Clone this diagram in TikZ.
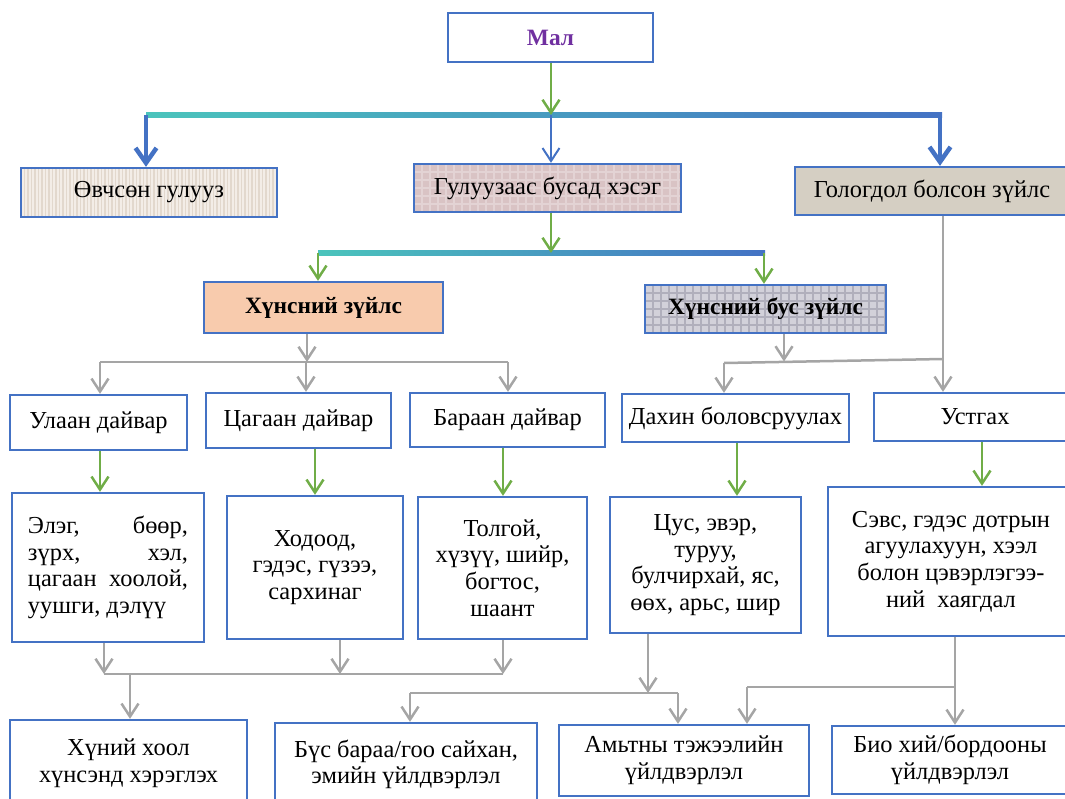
\documentclass[tikz,border=0pt]{standalone}
\usepackage{fontspec}
\setmainfont{Liberation Serif}
\usetikzlibrary{arrows.meta}
\definecolor{boxblue}{HTML}{4472C4}
\definecolor{agreen}{HTML}{70AD47}
\definecolor{agrey}{HTML}{A5A5A5}
\definecolor{tealc}{HTML}{4BC4BC}
\definecolor{purp}{HTML}{7030A0}
\definecolor{peach}{HTML}{F8CBAD}
\definecolor{ovbase}{HTML}{F3EDE7}
\definecolor{ovstripe}{HTML}{E2D8CD}
\definecolor{gulbase}{HTML}{D9C3C4}
\definecolor{gulgrid}{HTML}{E3D3D4}
\definecolor{golbase}{HTML}{D5CFC3}
\definecolor{hbbase}{HTML}{D2D1DA}
\definecolor{hbgrid}{HTML}{B0AFBC}
\begin{document}
\begin{tikzpicture}[x=1bp,y=-1bp,
  txt/.style={font=\fontsize{24.5}{26.7}\selectfont},
  box/.style={draw=boxblue, line width=2.3bp, inner sep=2bp, align=center, txt},
  boldtxt/.style={font=\fontsize{23.5}{26.7}\selectfont\bfseries},
  arrtip/.style={-{Straight Barb[length=13bp,width=17bp]}},
  garr/.style={draw=agreen, line width=2.5bp, arrtip},
  grarr/.style={draw=agrey, line width=2.5bp, arrtip},
  gline/.style={draw=agrey, line width=2.5bp},
  barr/.style={draw=boxblue, line width=4.5bp, -{Straight Barb[length=15bp,width=21bp]}},
  barrthin/.style={draw=boxblue, line width=2bp, arrtip},
  stripes/.style={path picture={\foreach \i in {0,3.5,...,280}{\draw[ovstripe, line width=1.2bp] ([xshift=\i bp]path picture bounding box.south west) -- ([xshift=\i bp]path picture bounding box.north west);}}},
  checks/.style={path picture={\foreach \i in {0,8,...,280}{\draw[#1, line width=1.3bp] ([xshift=\i bp]path picture bounding box.south west) -- ([xshift=\i bp]path picture bounding box.north west);}
    \foreach \j in {0,8,...,60}{\draw[#1, line width=1.3bp] ([yshift=\j bp]path picture bounding box.south west) -- ([yshift=\j bp]path picture bounding box.south east);}}},
]
\useasboundingbox (0,0) rectangle (1065,799);
\clip (0,0) rectangle (1065,799);

% ---- nodes ----
\node[box, minimum width=205bp, minimum height=49bp, text=purp, boldtxt] (mal) at (550.5,37.5) {Мал};

\node[box, fill=ovbase, stripes, minimum width=256bp, minimum height=49bp] (ovch) at (149,192.5) {Өвчсөн гулууз};
\node[box, fill=gulbase, checks=gulgrid, minimum width=267bp, minimum height=48bp, text depth=4bp] (gul) at (547.5,188) {Гулуузаас бусад хэсэг};
\node[box, fill=golbase, minimum width=274bp, minimum height=48bp] (golog) at (932,191) {Гологдол болсон зүйлс};

\node[box, fill=peach, minimum width=239bp, minimum height=51bp, boldtxt] (huns) at (323.5,307.5) {Хүнсний зүйлс};
\node[box, fill=hbbase, checks=hbgrid, minimum width=241bp, minimum height=48bp, boldtxt] (hbus) at (765.5,309) {Хүнсний бус зүйлс};

\node[box, minimum width=177bp, minimum height=55bp] (ulaan) at (98.5,422.5) {Улаан дайвар};
\node[box, minimum width=185bp, minimum height=55bp] (tsagaan) at (298.5,420.5) {Цагаан дайвар};
\node[box, minimum width=195bp, minimum height=54bp] (baraan) at (507.5,420) {Бараан дайвар};
\node[box, minimum width=227bp, minimum height=48bp] (dakhin) at (735.5,418) {Дахин боловсруулах};
\node[box, minimum width=202bp, minimum height=48bp] (ustgakh) at (975,417) {Устгах};

\node[box, minimum width=192bp, minimum height=149bp] (eleg) at (108,567.5)
  {\parbox{160bp}{\fontsize{24.5}{26.7}\selectfont Элэг,\hfill бөөр,\\зүрх,\hfill хэл,\\цагаан\hfill хоолой,\\уушги, дэлүү}};
\node[box, minimum width=176bp, minimum height=143bp] (khodood) at (315,567.5) {Ходоод,\\гэдэс, гүзээ,\\сархинаг};
\node[box, minimum width=169bp, minimum height=142bp] (tolgoi) at (502.5,568) {Толгой,\\хүзүү, шийр,\\богтос,\\шаант};
\node[box, minimum width=191bp, minimum height=136bp] (tsus) at (705.5,565) {Цус, эвэр,\\туруу,\\булчирхай, яс,\\өөх, арьс, шир};
\node[box, minimum width=246bp, minimum height=149bp] (sevs) at (951,561.5) {Сэвс, гэдэс дотрын\\агуулахуун, хээл\\болон цэвэрлэгээ-\\ний\ \ хаягдал};

\node[box, minimum width=237bp, minimum height=86bp] (khool) at (128.5,763) {Хүний хоол\\хүнсэнд хэрэглэх};
\node[box, minimum width=262bp, minimum height=83bp] (bus) at (406,764.5) {Бүс бараа/гоо сайхан,\\эмийн үйлдвэрлэл};
\node[box, minimum width=250bp, minimum height=71bp] (amitny) at (684,760.5) {Амьтны тэжээлийн\\үйлдвэрлэл};
\node[box, minimum width=236bp, minimum height=68bp] (bio) at (950,760) {Био хий/бордооны\\үйлдвэрлэл};

% ---- junction coordinates ----
\coordinate (j1) at (551,115);
\coordinate (j1L) at (146,115);
\coordinate (j1R) at (940,115);
\coordinate (j2) at (551,253);
\coordinate (j2L) at (318,253);
\coordinate (j2R) at (764,253);
\coordinate (j3) at (307,362);
\coordinate (j3L) at (100,362);
\coordinate (j3M) at (306,362);
\coordinate (j3R) at (508,362);
\coordinate (j4) at (784,361.5);
\coordinate (j4L) at (724,363);
\coordinate (j4R) at (943,359);
\coordinate (j5L) at (104,674);
\coordinate (j5M) at (340,674);
\coordinate (j5R) at (503,674);
\coordinate (j5o) at (130,674);
\coordinate (j6) at (648,693);
\coordinate (j6L) at (410,693);
\coordinate (j6R) at (678,693);
\coordinate (j7) at (955,687);
\coordinate (j7L) at (747,687);

% ---- level 1 ----
\shade[left color=tealc, right color=boxblue] (146,112.5) rectangle (942,117.5);
\draw[garr] (mal.south -| j1) -- (j1);
\draw[barr] (j1L) -- (j1L |- ovch.north);
\draw[barrthin] (j1) -- (j1 |- gul.north);
\draw[barr] (j1R) -- (j1R |- golog.north);

% ---- level 2 ----
\shade[left color=tealc, right color=boxblue] (318,250.5) rectangle (765,255.5);
\draw[garr] (gul.south -| j2) -- (j2);
\draw[garr] (j2L) -- (j2L |- huns.north);
\draw[garr] (j2R) -- (j2R |- hbus.north);

% ---- level 3 ----
\draw[grarr] (huns.south -| j3) -- (j3);
\draw[gline] (j3L) -- (j3R);
\draw[grarr] (j3L) -- (j3L |- ulaan.north);
\draw[grarr] (j3M) -- (j3M |- tsagaan.north);
\draw[grarr] (j3R) -- (j3R |- baraan.north);

\draw[grarr] (hbus.south -| j4) -- (j4);
\draw[gline] (j4L) -- (j4R);
\draw[grarr] (j4L) -- (j4L |- dakhin.north);
\draw[grarr] (golog.south -| j4R) -- (j4R |- ustgakh.north);

% ---- level 4 ----
\draw[garr] (ulaan.south -| 100,0) -- (eleg.north -| 100,0);
\draw[garr] (tsagaan.south -| 315,0) -- (khodood.north -| 315,0);
\draw[garr] (baraan.south -| 503,0) -- (tolgoi.north -| 503,0);
\draw[garr] (dakhin.south -| 737,0) -- (tsus.north -| 737,0);
\draw[garr] (ustgakh.south -| 982,0) -- (sevs.north -| 982,0);

% ---- level 5 ----
\draw[grarr] (eleg.south -| j5L) -- (j5L);
\draw[grarr] (khodood.south -| j5M) -- (j5M);
\draw[grarr] (tolgoi.south -| j5R) -- (j5R);
\draw[gline] (j5L) -- (j5R);
\draw[grarr] (j5o) -- (j5o |- khool.north);

\draw[grarr] (tsus.south -| j6) -- (j6);
\draw[gline] (j6L) -- (j6R);
\draw[grarr] (j6L) -- (j6L |- bus.north);
\draw[grarr] (j6R) -- (j6R |- amitny.north);

\draw[grarr] (sevs.south -| j7) -- (j7 |- bio.north);
\draw[gline] (j7L) -- (j7);
\draw[grarr] (j7L) -- (j7L |- amitny.north);
\end{tikzpicture}
\end{document}
